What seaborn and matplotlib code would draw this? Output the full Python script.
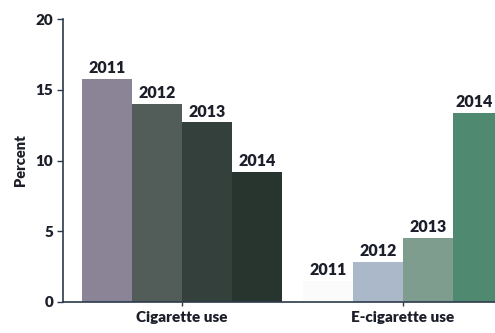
import matplotlib
matplotlib.use("Agg")
import matplotlib.pyplot as plt
import seaborn as sns
import pandas as pd

categories = ["Cigarette use", "E-cigarette use"]
years = ["2011", "2012", "2013", "2014"]
cigarette = [15.8, 14.0, 12.7, 9.2]
ecigarette = [1.5, 2.8, 4.5, 13.4]
yticks = [0, 5, 10, 15, 20]

cig_colors = ["#8b8496", "#525d59", "#34403b", "#28352f"]
ecig_colors = ["#fbfbfb", "#aab8c9", "#7f9d8f", "#4f8a70"]

rows = []
for cat, vals in zip(categories, [cigarette, ecigarette]):
    for y, v in zip(years, vals):
        rows.append({"category": cat, "year": y, "value": v})
df = pd.DataFrame(rows)

sns.set_theme(style="white")
plt.rcParams["font.family"] = ["Lato", "DejaVu Sans"]

TXT = "#1c1f2a"
fig = plt.figure(figsize=(4.95, 3.33), dpi=100)
ax = fig.add_axes([0.127, 0.094, 0.873, 0.848])

sns.barplot(data=df, x="category", y="value", hue="year", order=categories,
            hue_order=years, width=0.905, ax=ax, legend=False,
            edgecolor="none", linewidth=0)

for i, cont in enumerate(ax.containers):
    cont[0].set_facecolor(cig_colors[i])
    cont[1].set_facecolor(ecig_colors[i])
    anns = ax.bar_label(cont, labels=[years[i], years[i]], padding=2,
                        fontsize=11.5, fontweight="heavy", color=TXT)
    if i == len(years) - 1:
        # keep the last label inside the figure edge
        anns[1].xyann = (-3, 2)

ax.set_ylim(0, 20)
ax.set_xlim(-0.54, 1.416)
ax.set_yticks(yticks)
ax.set_yticklabels([str(t) for t in yticks], fontsize=11, fontweight="heavy", color=TXT)
ax.set_xticks([0, 1])
ax.set_xticklabels(categories, fontsize=11, fontweight="heavy", color=TXT)
ax.set_xlabel("")
ax.set_ylabel("Percent", fontsize=10.5, fontweight="heavy", color=TXT, labelpad=6)

for s in ["top", "right"]:
    ax.spines[s].set_visible(False)
for s in ["left", "bottom"]:
    ax.spines[s].set_color("#2c3a4c")
    ax.spines[s].set_linewidth(1.2)
ax.tick_params(axis="y", left=True, length=4, width=1, color="#2c3a4c", pad=3)
ax.tick_params(axis="x", bottom=True, length=3, width=1, color="#2c3a4c", pad=4)

fig.savefig("out.png", dpi=100)
